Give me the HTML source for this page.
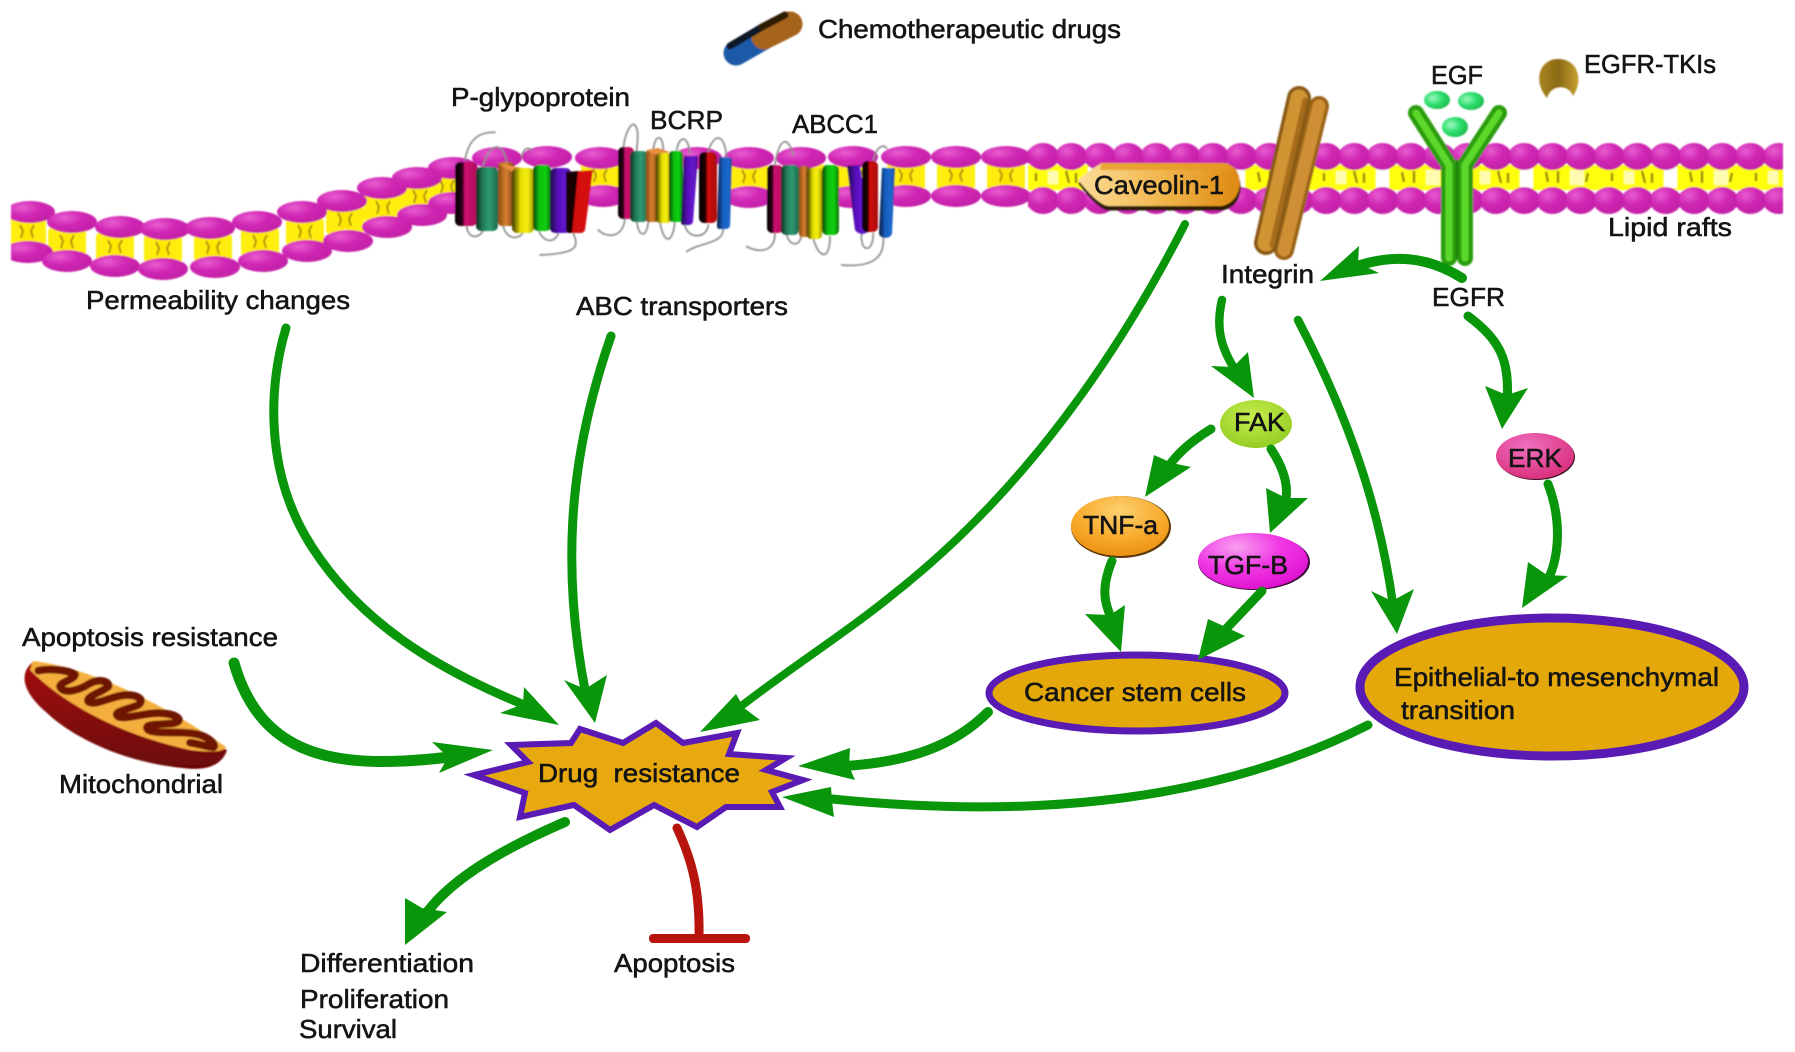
<!DOCTYPE html>
<html><head><meta charset="utf-8"><title>Drug resistance diagram</title>
<style>html,body{margin:0;padding:0;background:#fff}svg{display:block}
text{font-family:"Liberation Sans",sans-serif;font-size:26px;fill:#141414;stroke:#141414;stroke-width:.55}</style></head>
<body>
<svg width="1795" height="1052" viewBox="0 0 1795 1052" xmlns="http://www.w3.org/2000/svg">
<defs>
<filter id="b" x="-5%" y="-5%" width="110%" height="110%"><feGaussianBlur stdDeviation="0.8"/></filter>
<radialGradient id="mag" cx=".35" cy=".3" r=".8"><stop offset="0" stop-color="#e85cd0"/><stop offset=".45" stop-color="#d028b4"/><stop offset="1" stop-color="#c01ea4"/></radialGradient>
<pattern id="rt" patternUnits="userSpaceOnUse" x="1028.85" y="143" width="28.3" height="27"><ellipse cx="14.15" cy="13.5" rx="16" ry="13.5" fill="url(#mag)"/></pattern>
<pattern id="rb" patternUnits="userSpaceOnUse" x="1028.85" y="187" width="28.3" height="27"><ellipse cx="14.15" cy="13.5" rx="16" ry="13.5" fill="url(#mag)"/></pattern>
<pattern id="rm" patternUnits="userSpaceOnUse" x="1028" y="165" width="144" height="25">
<rect width="144" height="25" fill="#ffff10"/><rect x="60" y="2" width="13" height="21" fill="#fff"/><rect x="20" y="6" width="10" height="13" fill="#fffbb0"/><rect x="110" y="5" width="14" height="15" fill="#fffbb0"/>
<path d="M8 8v8M38 6l3 12M48 8v10M86 7l2 10M98 6v12M128 8l-2 9" stroke="#9a8a10" stroke-width="2.5"/></pattern>
<linearGradient id="cM" x1="0" x2="1" y1="0" y2="0"><stop offset="0" stop-color="#000"/><stop offset=".35" stop-color="#300018"/><stop offset=".45" stop-color="#d01070"/><stop offset="1" stop-color="#b0105c"/></linearGradient>
<linearGradient id="cT" x1="0" x2="1" y1="0" y2="0"><stop offset="0" stop-color="#0a2a1c"/><stop offset=".3" stop-color="#1f7a58"/><stop offset=".6" stop-color="#2f9a72"/><stop offset="1" stop-color="#1a6a4a"/></linearGradient>
<linearGradient id="cO" x1="0" x2="1" y1="0" y2="0"><stop offset="0" stop-color="#8a4a10"/><stop offset=".5" stop-color="#d88030"/><stop offset="1" stop-color="#7a4410"/></linearGradient>
<linearGradient id="cY" x1="0" x2="1" y1="0" y2="0"><stop offset="0" stop-color="#3a3600"/><stop offset=".4" stop-color="#e8e000"/><stop offset=".7" stop-color="#f4ee10"/><stop offset="1" stop-color="#a09a00"/></linearGradient>
<linearGradient id="cG" x1="0" x2="1" y1="0" y2="0"><stop offset="0" stop-color="#044004"/><stop offset=".35" stop-color="#10c010"/><stop offset=".7" stop-color="#10d010"/><stop offset="1" stop-color="#087008"/></linearGradient>
<linearGradient id="cP" x1="0" x2="1" y1="0" y2="0"><stop offset="0" stop-color="#1a0440"/><stop offset=".4" stop-color="#5a10c0"/><stop offset=".8" stop-color="#6414cc"/><stop offset="1" stop-color="#300870"/></linearGradient>
<linearGradient id="cR" x1="0" x2="1" y1="0" y2="0"><stop offset="0" stop-color="#000"/><stop offset=".35" stop-color="#200000"/><stop offset=".5" stop-color="#d80a0a"/><stop offset="1" stop-color="#a00808"/></linearGradient>
<linearGradient id="cB" x1="0" x2="1" y1="0" y2="0"><stop offset="0" stop-color="#06183a"/><stop offset=".4" stop-color="#1860c0"/><stop offset=".8" stop-color="#1c68cc"/><stop offset="1" stop-color="#0c3a80"/></linearGradient>
<linearGradient id="cav" x1="0" x2="1" y1="0" y2="0"><stop offset="0" stop-color="#fbdc98"/><stop offset=".5" stop-color="#f2b850"/><stop offset="1" stop-color="#dd8a10"/></linearGradient>
<linearGradient id="tki" x1="0" y1="0" x2="1" y2="0"><stop offset="0" stop-color="#a88420"/><stop offset=".5" stop-color="#8a6a14"/><stop offset="1" stop-color="#c8a030"/></linearGradient>
<linearGradient id="mito" x1="0" y1="0" x2="0" y2="1"><stop offset="0" stop-color="#a51010"/><stop offset="1" stop-color="#6a0606"/></linearGradient>
<radialGradient id="gF" cx=".45" cy=".35" r=".7"><stop offset="0" stop-color="#c8ec50"/><stop offset="1" stop-color="#90cc20"/></radialGradient>
<radialGradient id="gE" cx=".4" cy=".3" r=".75"><stop offset="0" stop-color="#f070c0"/><stop offset="1" stop-color="#d82c78"/></radialGradient>
<radialGradient id="gT" cx=".5" cy=".25" r=".8"><stop offset="0" stop-color="#fcd070"/><stop offset=".6" stop-color="#f8a828"/><stop offset="1" stop-color="#e88c10"/></radialGradient>
<radialGradient id="gG" cx=".35" cy=".25" r=".8"><stop offset="0" stop-color="#f8a0f0"/><stop offset=".5" stop-color="#f038e4"/><stop offset="1" stop-color="#e010d0"/></radialGradient>
<radialGradient id="gB" cx=".35" cy=".4" r=".7"><stop offset="0" stop-color="#a0f8c0"/><stop offset=".5" stop-color="#30e070"/><stop offset="1" stop-color="#18b848"/></radialGradient>
<clipPath id="cl"><rect x="11" y="0" width="1772" height="400"/></clipPath>
<g id="bl"><rect x="-19" y="-15" width="18" height="30" rx="5" fill="#ffee10"/><rect x="1" y="-15" width="18" height="30" rx="5" fill="#ffee10"/><rect x="-4" y="-9" width="8" height="18" fill="#ffe800"/><path d="M-7 -7l3 6l-2 7M7 -7l-3 6l2 7" fill="none" stroke="#b09010" stroke-width="2"/></g>
<ellipse id="e" rx="25" ry="11" fill="url(#mag)"/>
</defs>

<g filter="url(#b)">
<g clip-path="url(#cl)">
<use href="#bl" x="27" y="232"/><use href="#bl" x="67" y="242"/><use href="#bl" x="115" y="247"/><use href="#bl" x="163" y="249"/><use href="#bl" x="213" y="248"/><use href="#bl" x="260" y="242"/><use href="#bl" x="305" y="232"/><use href="#bl" x="345" y="220"/><use href="#bl" x="383" y="208"/><use href="#bl" x="420" y="197"/><use href="#bl" x="447" y="187"/><use href="#bl" x="600" y="176"/><use href="#bl" x="749" y="177"/><use href="#bl" x="805" y="177"/><use href="#bl" x="856" y="177"/><use href="#bl" x="906" y="176"/><use href="#bl" x="956" y="176"/><use href="#bl" x="1006" y="176"/>
<use href="#e" x="30" y="212"/><use href="#e" x="72" y="222"/><use href="#e" x="120" y="227"/><use href="#e" x="165" y="229"/><use href="#e" x="210" y="228"/><use href="#e" x="257" y="222"/><use href="#e" x="302" y="212"/><use href="#e" x="342" y="201"/><use href="#e" x="382" y="188"/><use href="#e" x="417" y="178"/><use href="#e" x="453" y="168"/><use href="#e" x="497" y="158"/><use href="#e" x="547" y="157"/><use href="#e" x="600" y="158"/><use href="#e" x="697" y="158"/><use href="#e" x="749" y="158"/><use href="#e" x="801" y="158"/><use href="#e" x="853" y="157"/><use href="#e" x="906" y="157"/><use href="#e" x="956" y="157"/><use href="#e" x="1006" y="157"/>
<use href="#e" x="28" y="252"/><use href="#e" x="67" y="261"/><use href="#e" x="115" y="266"/><use href="#e" x="163" y="269"/><use href="#e" x="215" y="267"/><use href="#e" x="263" y="261"/><use href="#e" x="307" y="251"/><use href="#e" x="348" y="241"/><use href="#e" x="387" y="227"/><use href="#e" x="422" y="215"/><use href="#e" x="453" y="203"/><use href="#e" x="603" y="196"/><use href="#e" x="749" y="197"/><use href="#e" x="852" y="197"/><use href="#e" x="906" y="196"/><use href="#e" x="956" y="196"/><use href="#e" x="1006" y="196"/>
<rect x="1028" y="165" width="755" height="25" fill="url(#rm)"/>
<rect x="1028" y="143" width="755" height="27" fill="url(#rt)"/>
<rect x="1028" y="187" width="755" height="27" fill="url(#rb)"/>
</g>

<g transform="translate(440 125) scale(.3333)" fill="none" stroke="#8a8a8a" stroke-width="5" stroke-linecap="round">
<path d="M75 105C85 50 110 20 165 22M80 305C85 345 120 340 130 315M190 305C200 345 240 345 250 320M295 315C310 355 345 355 355 325M400 325C420 370 405 385 300 390M130 120C150 50 190 50 200 110M245 95C250 70 265 65 275 75"/>
<path d="M550 70C555 20 575 -10 585 0C600 20 590 60 590 80M640 75C645 25 670 25 670 80M710 75C720 25 745 35 750 85M805 80C820 25 855 20 860 100M475 315C500 340 550 340 555 280M590 285C595 340 620 340 625 290M660 290C670 360 700 360 705 285M735 300C740 340 800 345 805 300M850 305C855 360 780 350 740 380"/>
<path d="M1005 120C1015 50 1040 20 1060 90M920 365C960 385 1005 380 1005 325M1040 330C1050 365 1080 365 1085 330M1120 340C1135 400 1170 410 1170 335M1265 325C1260 385 1300 385 1300 325M1330 340C1335 420 1260 425 1205 420M1300 115C1305 65 1330 55 1340 70"/>
</g>
<!-- P-gp -->
<rect x="455" y="162" width="22" height="64" rx="5" fill="url(#cM)"/>
<rect x="476" y="167" width="22" height="64" rx="5" fill="url(#cT)"/>
<rect x="498" y="162" width="16" height="64" rx="4" fill="url(#cO)"/>
<path d="M498 163L512 166L533 170V172L512 172Z" fill="#e89040"/>
<rect x="512" y="168" width="22" height="65" rx="5" fill="url(#cY)"/>
<rect x="533" y="165" width="18" height="66" rx="5" fill="url(#cG)"/>
<rect x="550" y="168" width="21" height="65" rx="5" fill="url(#cP)"/>
<path d="M566 172L593 170L585 230Q584 233 580 233H570Q566 233 566 229Z" fill="#d40a0a"/>
<path d="M566 172L578 171L572 233H570Q566 233 566 229Z" fill="#120000"/>
<!-- BCRP -->
<rect x="618" y="147" width="16" height="72" rx="5" fill="url(#cM)"/>
<rect x="630" y="151" width="18" height="71" rx="5" fill="url(#cT)"/>
<rect x="646" y="150" width="12" height="72" rx="3" fill="url(#cO)"/>
<path d="M646 150L658 148L670 152L658 156Z" fill="#e89040"/>
<rect x="656" y="153" width="15" height="70" rx="4" fill="url(#cY)"/>
<rect x="669" y="151" width="14" height="71" rx="4" fill="url(#cG)"/>
<path d="M684 156L698 156L693 222Q692 225 688 225H684Q681 225 681 222Z" fill="url(#cP)"/>
<rect x="699" y="152" width="18" height="71" rx="5" fill="url(#cR)"/>
<path d="M719 157L732 158L730 226Q729 229 725 229H720Q717 229 717 226Z" fill="url(#cB)"/>
<!-- ABCC1 -->
<rect x="767" y="165" width="16" height="68" rx="5" fill="url(#cM)"/>
<rect x="781" y="165" width="18" height="70" rx="5" fill="url(#cT)"/>
<rect x="799" y="166" width="10" height="71" rx="3" fill="url(#cO)"/>
<rect x="807" y="168" width="15" height="71" rx="4" fill="url(#cY)"/>
<rect x="822" y="165" width="17" height="70" rx="5" fill="url(#cG)"/>
<path d="M847 166L860 165L869 229Q868 233 863 234Q858 234 855 230Z" fill="url(#cP)"/>
<rect x="862" y="161" width="16" height="71" rx="5" fill="url(#cR)"/>
<path d="M882 168L895 168L892 234Q890 238 885 238Q879 237 879 233Z" fill="url(#cB)"/>

<!-- Caveolin -->
<path d="M1102 165H1224Q1240 168 1241 186Q1239 206 1222 209H1108Q1098 208 1078 182Q1086 174 1102 165Z" fill="#2a1a06" transform="translate(0 1.5)"/>
<path d="M1102 163H1224Q1240 166 1240 184Q1238 202 1222 206H1108Q1098 205 1078 180Q1086 172 1102 163Z" fill="url(#cav)"/>
<path d="M1102 163H1224L1232 170H1100Z" fill="#e69a24" opacity=".8"/>

<!-- Integrin -->
<g fill="none" stroke-linecap="round">
<path d="M1319 106L1284 250" stroke="#9a6418" stroke-width="20"/><path d="M1319 106L1284 250" stroke="#cf8f34" stroke-width="13"/>
<path d="M1299 98L1266 243" stroke="#8a5a14" stroke-width="24"/><path d="M1299 98L1266 243" stroke="#d09433" stroke-width="17"/><path d="M1305 100L1272 245" stroke="#a56c1c" stroke-width="5"/>
</g>
<!-- EGFR -->
<g fill="none" stroke-linecap="round" stroke-linejoin="round">
<path d="M1416 113L1449 165V258M1499 113L1465 165V258" stroke="#2a9c0e" stroke-width="16"/>
<path d="M1416 113L1449 165V258M1499 113L1465 165V258" stroke="#5cd82a" stroke-width="7"/>
<path d="M1457 160V258" stroke="#1c7a08" stroke-width="2"/>
</g>
<ellipse cx="1437" cy="100" rx="13" ry="9" fill="url(#gB)"/><ellipse cx="1471" cy="101" rx="13" ry="9" fill="url(#gB)"/><ellipse cx="1455" cy="127" rx="13" ry="10" fill="url(#gB)"/>
<path d="M1547 98C1532 80 1540 59 1558 59C1578 59 1584 80 1573 96C1569 84 1551 84 1547 98Z" fill="url(#tki)"/>

<!-- pill -->
<path d="M736 53L764 37" stroke="#1c5aa8" stroke-width="25" stroke-linecap="round" fill="none"/>
<path d="M764 37L790 24" stroke="#a5641c" stroke-width="25" stroke-linecap="round" fill="none"/>
<path d="M730 46L762 27" stroke="#081426" stroke-width="7" stroke-linecap="round" fill="none"/>
<path d="M762 27L785 15" stroke="#2e1a06" stroke-width="7" stroke-linecap="round" fill="none"/>

<!-- mitochondrion -->
<path d="M33 662C20 672 20 690 47 713C70 735 120 762 183 768C205 771 222 766 227 750L33 662Z" fill="url(#mito)"/>
<path d="M33 661C80 666 150 695 226 747C224 753 205 752 190 750C130 737 70 710 30 670Z" fill="#f4ae3e"/>
<g transform="translate(10 640) scale(.3333)" fill="none" stroke="#6e1206" stroke-width="23" stroke-linejoin="round" stroke-linecap="round">
<path d="M85 92C120 85 170 90 195 103C195 120 150 125 150 140C160 165 210 150 240 130C270 115 300 125 295 140C270 160 225 170 235 185C255 200 310 165 350 165C385 165 405 180 385 195C350 210 305 215 325 230C350 240 410 215 460 220C510 225 520 245 490 250C450 255 395 250 415 270C440 285 520 270 570 285C600 295 620 315 610 322C590 320 560 310 540 308"/>
</g>
</g>

<!-- Star -->
<polygon points="474,775 528,762 511,745 571,743 580,729 623,743 656,723 683,743 737,733 729,754 786,758 766,770 803,780 772,792 780,807 726,807 697,827 654,805 610,830 574,805 520,817 525,793" fill="#e8a90e" stroke="#5a1bb5" stroke-width="6" stroke-linejoin="miter"/>

<ellipse cx="1137" cy="693" rx="148" ry="38" fill="#e4a80a" stroke="#5a1bb5" stroke-width="7"/>
<ellipse cx="1552" cy="687" rx="192" ry="69" fill="#e4a80a" stroke="#5a1bb5" stroke-width="9"/>

<ellipse cx="1256" cy="424" rx="36" ry="24" fill="url(#gF)"/>
<ellipse cx="1536" cy="457" rx="39" ry="23" fill="#3a1020"/>
<ellipse cx="1535" cy="456" rx="39" ry="23" fill="url(#gE)"/>
<ellipse cx="1121" cy="527" rx="50" ry="31" fill="#5a3808"/>
<ellipse cx="1120" cy="526" rx="49" ry="30" fill="url(#gT)"/>
<ellipse cx="1254" cy="562" rx="56" ry="28" fill="#3a0a38"/>
<ellipse cx="1253" cy="561" rx="55" ry="28" fill="url(#gG)"/>

<!-- arrows -->
<g fill="none" stroke="#0a960a" stroke-width="9" stroke-linecap="round">
<path d="M286 328C270 380 262 470 312 547C362 625 440 670 522 704"/>
<path d="M611 336C575 440 558 550 585 690"/>
<path d="M1185 224C1100 390 1000 510 896 592C850 630 790 668 740 707" stroke-width="8"/>
<path d="M234 663C262 760 340 770 450 757" stroke-width="11"/>
<path d="M988 712C955 745 910 762 845 766" stroke-width="10"/>
<path d="M1368 725C1220 800 1040 820 832 799" stroke-width="9"/>
<path d="M565 822C500 850 450 880 425 915" stroke-width="10"/>
<path d="M1462 278C1430 258 1395 252 1351 268" stroke-width="10"/>
<path d="M1222 300C1215 330 1222 350 1237 373" stroke-width="8.5"/>
<path d="M1298 320C1350 420 1380 510 1393 605" stroke-width="8.5"/>
<path d="M1468 316C1500 340 1510 360 1507 402" stroke-width="9"/>
<path d="M1211 429C1190 442 1175 455 1165 472" stroke-width="9"/>
<path d="M1271 449C1285 470 1290 490 1284 506" stroke-width="9"/>
<path d="M1112 561C1100 590 1105 605 1113 622" stroke-width="9"/>
<path d="M1262 591L1225 630" stroke-width="9"/>
<path d="M1548 484C1562 520 1560 560 1545 585" stroke-width="9"/>
</g>
<g fill="#0a960a">
<polygon points="559,725 524,687 523,704 500,713"/>
<polygon points="595,723 564,680 585,689 607,675"/>
<polygon points="700,732 736,694 744,708 760,720"/>
<polygon points="493,750 432,742 448,757 439,773"/>
<polygon points="798,766 850,748 849,766 855,780"/>
<polygon points="782,797 831,787 832,801 834,817"/>
<polygon points="405,945 405,898 422,908 447,912"/>
<polygon points="1320,281 1359,246 1358,263 1379,273"/>
<polygon points="1254,398 1211,366 1233,367 1248,352"/>
<polygon points="1397,634 1371,591 1392,601 1414,589"/>
<polygon points="1502,429 1485,386 1507,395 1528,388"/>
<polygon points="1145,497 1154,455 1172,463 1191,467"/>
<polygon points="1270,533 1266,488 1286,498 1308,498"/>
<polygon points="1121,652 1085,614 1110,615 1125,605"/>
<polygon points="1198,660 1208,619 1228,628 1245,636"/>
<polygon points="1522,608 1528,562 1547,575 1568,576"/>
</g>
<path d="M677 828C692 860 700 890 699 938" fill="none" stroke="#b8140e" stroke-width="9" stroke-linecap="round"/>
<rect x="649" y="934" width="101" height="9" rx="4" fill="#b8140e"/>

<g>
<text x="818" y="38" textLength="303" lengthAdjust="spacingAndGlyphs">Chemotherapeutic drugs</text>
<text x="451" y="106" textLength="179" lengthAdjust="spacingAndGlyphs">P-glypoprotein</text>
<text x="650" y="129" textLength="73" lengthAdjust="spacingAndGlyphs">BCRP</text>
<text x="792" y="133" textLength="86" lengthAdjust="spacingAndGlyphs">ABCC1</text>
<text x="1431" y="84" textLength="52" lengthAdjust="spacingAndGlyphs">EGF</text>
<text x="1584" y="73" textLength="132" lengthAdjust="spacingAndGlyphs">EGFR-TKIs</text>
<text x="1608" y="236" textLength="124" lengthAdjust="spacingAndGlyphs">Lipid rafts</text>
<text x="1094" y="194" textLength="130" lengthAdjust="spacingAndGlyphs">Caveolin-1</text>
<text x="1221" y="283" textLength="93" lengthAdjust="spacingAndGlyphs">Integrin</text>
<text x="1432" y="306" textLength="73" lengthAdjust="spacingAndGlyphs">EGFR</text>
<text x="86" y="309" textLength="264" lengthAdjust="spacingAndGlyphs">Permeability changes</text>
<text x="576" y="315" textLength="212" lengthAdjust="spacingAndGlyphs">ABC transporters</text>
<text x="1234" y="431" textLength="51" lengthAdjust="spacingAndGlyphs">FAK</text>
<text x="1508" y="467" textLength="54" lengthAdjust="spacingAndGlyphs">ERK</text>
<text x="1083" y="534" textLength="75" lengthAdjust="spacingAndGlyphs">TNF-a</text>
<text x="1208" y="574" textLength="80" lengthAdjust="spacingAndGlyphs">TGF-B</text>
<text x="1024" y="701" textLength="222" lengthAdjust="spacingAndGlyphs">Cancer stem cells</text>
<text x="1394" y="686" textLength="325" lengthAdjust="spacingAndGlyphs">Epithelial-to mesenchymal</text>
<text x="1401" y="719" textLength="114" lengthAdjust="spacingAndGlyphs">transition</text>
<text x="22" y="646" textLength="256" lengthAdjust="spacingAndGlyphs">Apoptosis resistance</text>
<text x="59" y="793" textLength="164" lengthAdjust="spacingAndGlyphs">Mitochondrial</text>
<text x="538" y="782" textLength="202" lengthAdjust="spacingAndGlyphs">Drug&#160; resistance</text>
<text x="300" y="972" textLength="174" lengthAdjust="spacingAndGlyphs">Differentiation</text>
<text x="300" y="1008" textLength="149" lengthAdjust="spacingAndGlyphs">Proliferation</text>
<text x="299" y="1038" textLength="98" lengthAdjust="spacingAndGlyphs">Survival</text>
<text x="614" y="972" textLength="121" lengthAdjust="spacingAndGlyphs">Apoptosis</text>
</g>
</svg>
</body></html>
